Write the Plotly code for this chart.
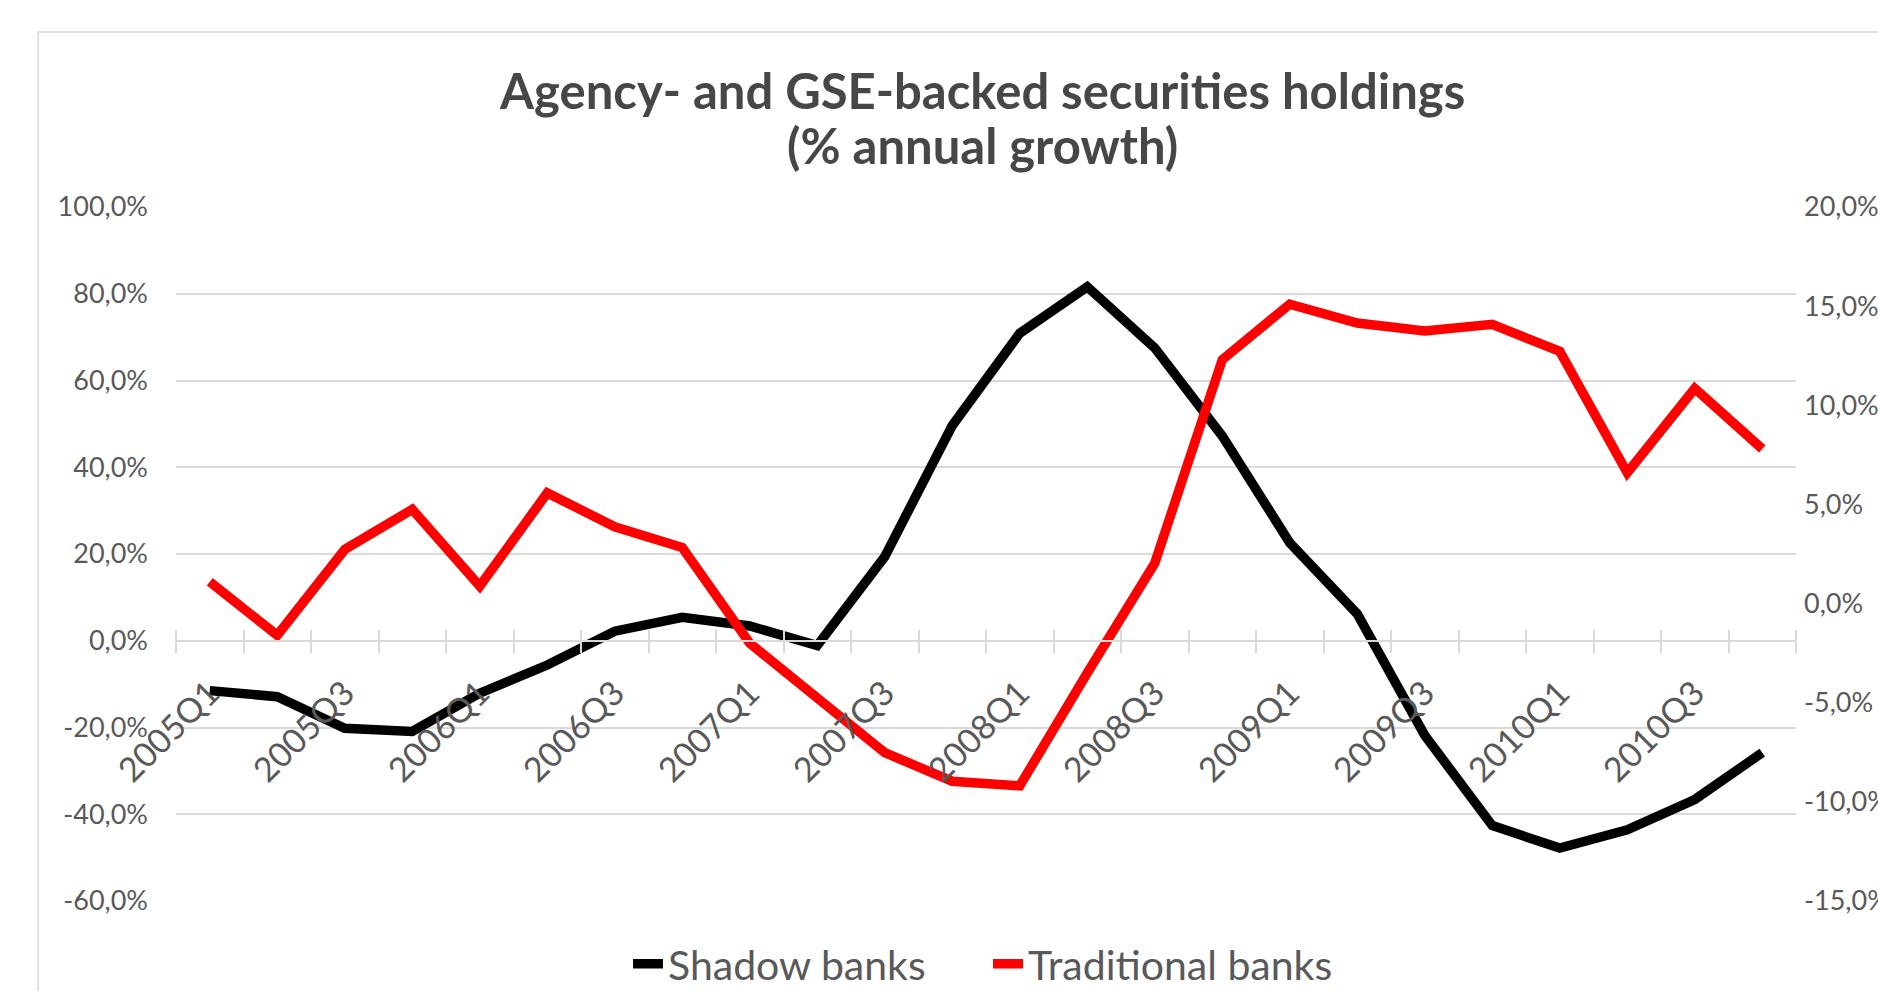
import plotly.graph_objects as go

# ---- data ----
quarters = ["2005Q1", "2005Q2", "2005Q3", "2005Q4",
            "2006Q1", "2006Q2", "2006Q3", "2006Q4",
            "2007Q1", "2007Q2", "2007Q3", "2007Q4",
            "2008Q1", "2008Q2", "2008Q3", "2008Q4",
            "2009Q1", "2009Q2", "2009Q3", "2009Q4",
            "2010Q1", "2010Q2", "2010Q3", "2010Q4"]
shadow_banks = [-11.5, -12.9, -20.2, -20.9, -12.1, -5.6, 2.2, 5.4,
                3.4, -1.1, 19.4, 49.6, 70.9, 81.6, 67.5, 47.2,
                22.6, 6.2, -21.8, -42.6, -47.8, -43.6, -36.6, -25.8]
traditional_banks = [1.1, -1.6, 2.73, 4.75, 0.88, 5.58, 3.87, 2.83,
                     -2.0, -4.7, -7.52, -8.96, -9.19, -3.5, 2.04, 12.3,
                     15.1, 14.15, 13.75, 14.08, 12.72, 6.6, 10.85, 7.8]
left_ticks = [100, 80, 60, 40, 20, 0, -20, -40, -60]
right_ticks = [20, 15, 10, 5, 0, -5, -10, -15]
title_lines = ["Agency- and GSE-backed securities holdings", "(% annual growth)"]


def pct(v):
    return f"{v:.1f}".replace(".", ",") + "%"


W, H = 1878, 991
ML, MR, MT, MB = 176, 82, 207, 90
PW, PH = W - ML - MR, H - MT - MB

GRID = "#d9d9d9"
TXT = "#595959"
FONT = "Lato"

x = list(range(len(quarters)))
xr = [-0.5, len(quarters) - 0.5]
boundaries = [i - 0.5 for i in range(len(quarters) + 1)]
lrange = [min(left_ticks), max(left_ticks)]
rrange = [min(right_ticks), max(right_ticks)]
zero_pos = (0 - lrange[0]) / (lrange[1] - lrange[0])


def px_x(px):
    return (px - ML) / PW


def px_y(py):
    return (H - MB - py) / PH


fig = go.Figure()
fig.add_trace(go.Scatter(x=x, y=shadow_banks, name="Shadow banks", mode="lines",
                         line=dict(color="#000000", width=9.5),
                         xaxis="x", yaxis="y", legend="legend"))
fig.add_trace(go.Scatter(x=x, y=traditional_banks, name="Traditional banks", mode="lines",
                         line=dict(color="#ff0000", width=9.5),
                         xaxis="x2", yaxis="y2", legend="legend2"))

legend_common = dict(orientation="h", xref="container", yref="container",
                     xanchor="left", y=1 - 964 / H, yanchor="middle",
                     font=dict(family=FONT, size=41, color=TXT),
                     bgcolor="rgba(0,0,0,0)")

fig.update_layout(
    width=W, height=H,
    margin=dict(l=ML, r=MR, t=MT, b=MB, pad=0, autoexpand=False),
    paper_bgcolor="white", plot_bgcolor="white",
    font=dict(family=FONT, color=TXT),
    annotations=[
        dict(text=f"<b>{title_lines[0]}</b>", xref="paper", yref="paper",
             x=px_x(982), y=px_y(90), xanchor="center", yanchor="middle",
             showarrow=False, font=dict(family=FONT, size=49, color="#474747")),
        dict(text=f"<b>{title_lines[1]}</b>", xref="paper", yref="paper",
             x=px_x(982), y=px_y(145), xanchor="center", yanchor="middle",
             showarrow=False, font=dict(family=FONT, size=49, color="#474747")),
    ],
    xaxis=dict(range=xr, anchor="free", position=zero_pos, domain=[0, 1],
               automargin=False,
               tickmode="array", tickvals=x[::2], ticktext=quarters[::2],
               tickangle=-45, ticks="", ticklabelstandoff=18,
               tickfont=dict(family=FONT, size=34, color=TXT),
               showline=True, linecolor=GRID, linewidth=1.5,
               showgrid=False, zeroline=False,
               minor=dict(tickmode="array", tickvals=boundaries, ticks="outside",
                          ticklen=11, tickwidth=1.5, tickcolor=GRID, showgrid=False)),
    xaxis2=dict(range=xr, overlaying="x", anchor="free", position=zero_pos,
                automargin=False,
                showticklabels=False, ticks="", showline=False, showgrid=False,
                zeroline=False,
                minor=dict(tickmode="array", tickvals=boundaries, ticks="inside",
                           ticklen=11, tickwidth=1.5, tickcolor=GRID, showgrid=False)),
    yaxis=dict(range=lrange, anchor="free", position=0, domain=[0, 1],
               automargin=False,
               tickmode="array", tickvals=left_ticks,
               ticktext=[pct(v) for v in left_ticks],
               ticks="", ticklabelstandoff=28,
               tickfont=dict(family=FONT, size=27, color=TXT),
               showgrid=True, gridcolor=GRID, gridwidth=1.5,
               zeroline=False, showline=False),
    yaxis2=dict(range=rrange, overlaying="y", side="right", anchor="free", position=1,
                automargin=False,
                tickmode="array", tickvals=right_ticks,
                ticktext=[pct(v) for v in right_ticks],
                ticks="", ticklabelstandoff=7,
                tickfont=dict(family=FONT, size=27, color=TXT),
                showgrid=False, zeroline=False, showline=False),
    showlegend=True,
    legend=dict(x=628 / W, **legend_common),
    legend2=dict(x=988 / W, **legend_common),
    shapes=[dict(type="rect", xref="paper", yref="paper",
                 x0=px_x(38), x1=1.2, y0=-0.5, y1=px_y(32),
                 line=dict(color=GRID, width=1.5), layer="below")],
)

fig.write_html("out.html")
